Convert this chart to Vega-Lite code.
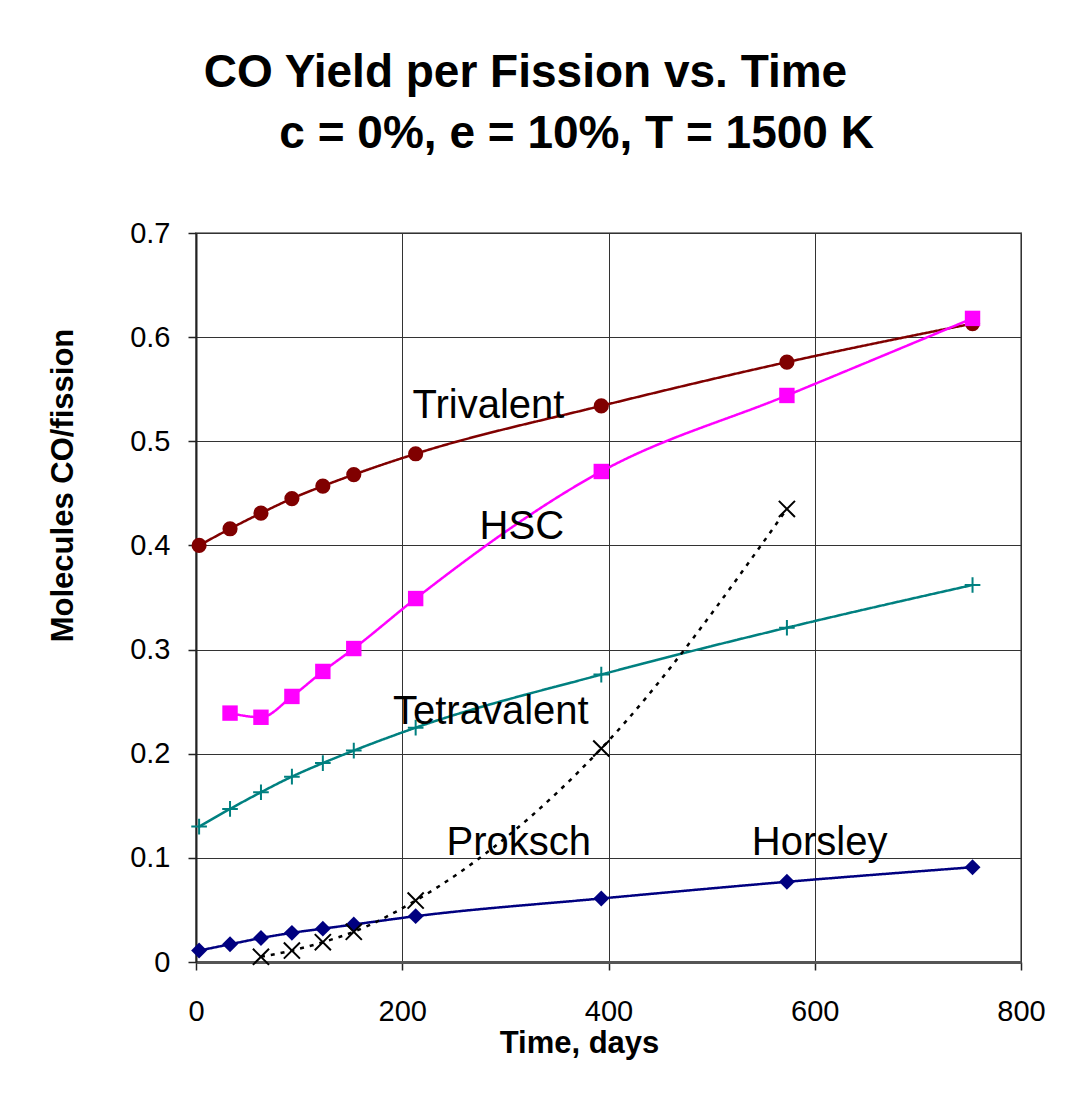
{
  "$schema": "https://vega.github.io/schema/vega-lite/v6.json",
  "width": 825,
  "height": 729,
  "autosize": "none",
  "padding": {"left": 196, "top": 233, "right": 44, "bottom": 133},
  "background": "white",
  "title": {
    "text": ["CO Yield per Fission vs. Time", "\u200b\u00a0\u00a0\u00a0\u00a0\u00a0\u00a0\u00a0\u00a0c = 0%, e = 10%, T = 1500 K"],
    "font": "Liberation Sans",
    "fontSize": 46,
    "fontWeight": "bold",
    "color": "black",
    "anchor": "middle",
    "frame": "group",
    "dx": -83,
    "lineHeight": 61,
    "baseline": "alphabetic",
    "offset": 25
  },
  "config": {
    "view": {"stroke": "#8c8c8c", "strokeWidth": 2},
    "font": "Liberation Sans",
    "axis": {
      "labelFont": "Liberation Sans",
      "labelFontSize": 29,
      "labelColor": "black",
      "labelFlush": false,
      "labelOverlap": false,
      "titleFont": "Liberation Sans",
      "titleFontSize": 31,
      "titleFontWeight": "bold",
      "titleColor": "black",
      "gridColor": "#333333",
      "gridWidth": 1,
      "gridOpacity": 1,
      "tickColor": "#222222",
      "tickSize": 8,
      "tickWidth": 1.5
    }
  },
  "datasets": {
    "series": [
      {"series": "Trivalent", "day": 3, "value": 0.400},
      {"series": "Trivalent", "day": 33, "value": 0.416},
      {"series": "Trivalent", "day": 63, "value": 0.431},
      {"series": "Trivalent", "day": 93, "value": 0.445},
      {"series": "Trivalent", "day": 123, "value": 0.457},
      {"series": "Trivalent", "day": 153, "value": 0.468},
      {"series": "Trivalent", "day": 213, "value": 0.488},
      {"series": "Trivalent", "day": 393, "value": 0.534},
      {"series": "Trivalent", "day": 573, "value": 0.576},
      {"series": "Trivalent", "day": 753, "value": 0.613},
      {"series": "HSC", "day": 33, "value": 0.239},
      {"series": "HSC", "day": 63, "value": 0.235},
      {"series": "HSC", "day": 93, "value": 0.255},
      {"series": "HSC", "day": 123, "value": 0.279},
      {"series": "HSC", "day": 153, "value": 0.301},
      {"series": "HSC", "day": 213, "value": 0.349},
      {"series": "HSC", "day": 393, "value": 0.471},
      {"series": "HSC", "day": 573, "value": 0.544},
      {"series": "HSC", "day": 753, "value": 0.618},
      {"series": "Tetravalent", "day": 3, "value": 0.130},
      {"series": "Tetravalent", "day": 33, "value": 0.147},
      {"series": "Tetravalent", "day": 63, "value": 0.163},
      {"series": "Tetravalent", "day": 93, "value": 0.178},
      {"series": "Tetravalent", "day": 123, "value": 0.191},
      {"series": "Tetravalent", "day": 153, "value": 0.203},
      {"series": "Tetravalent", "day": 213, "value": 0.225},
      {"series": "Tetravalent", "day": 393, "value": 0.276},
      {"series": "Tetravalent", "day": 573, "value": 0.321},
      {"series": "Tetravalent", "day": 753, "value": 0.362},
      {"series": "Horsley", "day": 3, "value": 0.011},
      {"series": "Horsley", "day": 33, "value": 0.017},
      {"series": "Horsley", "day": 63, "value": 0.023},
      {"series": "Horsley", "day": 93, "value": 0.028},
      {"series": "Horsley", "day": 123, "value": 0.032},
      {"series": "Horsley", "day": 153, "value": 0.036},
      {"series": "Horsley", "day": 213, "value": 0.044},
      {"series": "Horsley", "day": 393, "value": 0.061},
      {"series": "Horsley", "day": 573, "value": 0.077},
      {"series": "Horsley", "day": 753, "value": 0.091},
      {"series": "Proksch", "day": 63, "value": 0.005},
      {"series": "Proksch", "day": 93, "value": 0.011},
      {"series": "Proksch", "day": 123, "value": 0.019},
      {"series": "Proksch", "day": 153, "value": 0.029},
      {"series": "Proksch", "day": 213, "value": 0.059},
      {"series": "Proksch", "day": 393, "value": 0.205},
      {"series": "Proksch", "day": 573, "value": 0.435}
    ],
    "labels": [
      {"label": "Trivalent", "day": 210, "value": 0.522},
      {"label": "HSC", "day": 275, "value": 0.406},
      {"label": "Tetravalent", "day": 191, "value": 0.229},
      {"label": "Proksch", "day": 243, "value": 0.103},
      {"label": "Horsley", "day": 539, "value": 0.103}
    ]
  },
  "encoding": {
    "x": {
      "field": "day",
      "type": "quantitative",
      "scale": {"domain": [0, 800], "nice": false},
      "axis": {
        "title": "Time, days",
        "values": [0, 200, 400, 600, 800],
        "domainColor": "#555555",
        "domainWidth": 3,
        "labelPadding": 27,
        "titleX": 383,
        "titleY": 90,
        "titleBaseline": "alphabetic",
        "titleAnchor": null
      }
    },
    "y": {
      "field": "value",
      "type": "quantitative",
      "scale": {"domain": [0, 0.7], "nice": false},
      "axis": {
        "title": "Molecules CO/fission",
        "values": [0, 0.1, 0.2, 0.3, 0.4, 0.5, 0.6, 0.7],
        "format": ".1~f",
        "domainColor": "#222222",
        "domainWidth": 2,
        "labelPadding": 18,
        "titleAngle": -90,
        "titleX": -124,
        "titleY": 252,
        "titleAlign": "center",
        "titleBaseline": "alphabetic"
      }
    }
  },
  "layer": [
    {
      "data": {"name": "series"},
      "mark": {"type": "line", "interpolate": "monotone", "strokeWidth": 2.5},
      "encoding": {
        "detail": {"field": "series"},
        "color": {
          "field": "series",
          "type": "nominal",
          "scale": {
            "domain": ["Trivalent", "HSC", "Tetravalent", "Horsley", "Proksch"],
            "range": ["#800000", "#ff00ff", "#008080", "#000080", "#000000"]
          },
          "legend": null
        },
        "strokeDash": {
          "field": "series",
          "type": "nominal",
          "scale": {
            "domain": ["Trivalent", "HSC", "Tetravalent", "Horsley", "Proksch"],
            "range": [[1, 0], [1, 0], [1, 0], [1, 0], [4, 6]]
          },
          "legend": null
        }
      }
    },
    {
      "data": {"name": "series"},
      "transform": [{"filter": {"field": "series", "oneOf": ["Trivalent", "HSC", "Horsley"]}}],
      "mark": {"type": "point", "filled": true, "opacity": 1},
      "encoding": {
        "color": {"field": "series", "type": "nominal", "legend": null},
        "shape": {
          "field": "series",
          "type": "nominal",
          "scale": {
            "domain": ["Trivalent", "HSC", "Tetravalent", "Horsley", "Proksch"],
            "range": ["circle", "square", "M-1,0L1,0M0,-1L0,1", "diamond", "M-1,-1L1,1M1,-1L-1,1"]
          },
          "legend": null
        },
        "size": {
          "field": "series",
          "type": "nominal",
          "scale": {
            "domain": ["Trivalent", "HSC", "Tetravalent", "Horsley", "Proksch"],
            "range": [230, 260, 400, 340, 280]
          },
          "legend": null
        }
      }
    },
    {
      "data": {"name": "series"},
      "transform": [{"filter": {"field": "series", "oneOf": ["Tetravalent", "Proksch"]}}],
      "mark": {"type": "point", "filled": false, "opacity": 1, "strokeWidth": 2},
      "encoding": {
        "color": {"field": "series", "type": "nominal", "legend": null},
        "shape": {"field": "series", "type": "nominal", "legend": null},
        "size": {"field": "series", "type": "nominal", "legend": null}
      }
    },
    {
      "data": {"name": "labels"},
      "mark": {
        "type": "text",
        "align": "left",
        "baseline": "alphabetic",
        "font": "Liberation Sans",
        "fontSize": 40,
        "color": "black"
      },
      "encoding": {
        "text": {"field": "label"}
      }
    }
  ]
}
